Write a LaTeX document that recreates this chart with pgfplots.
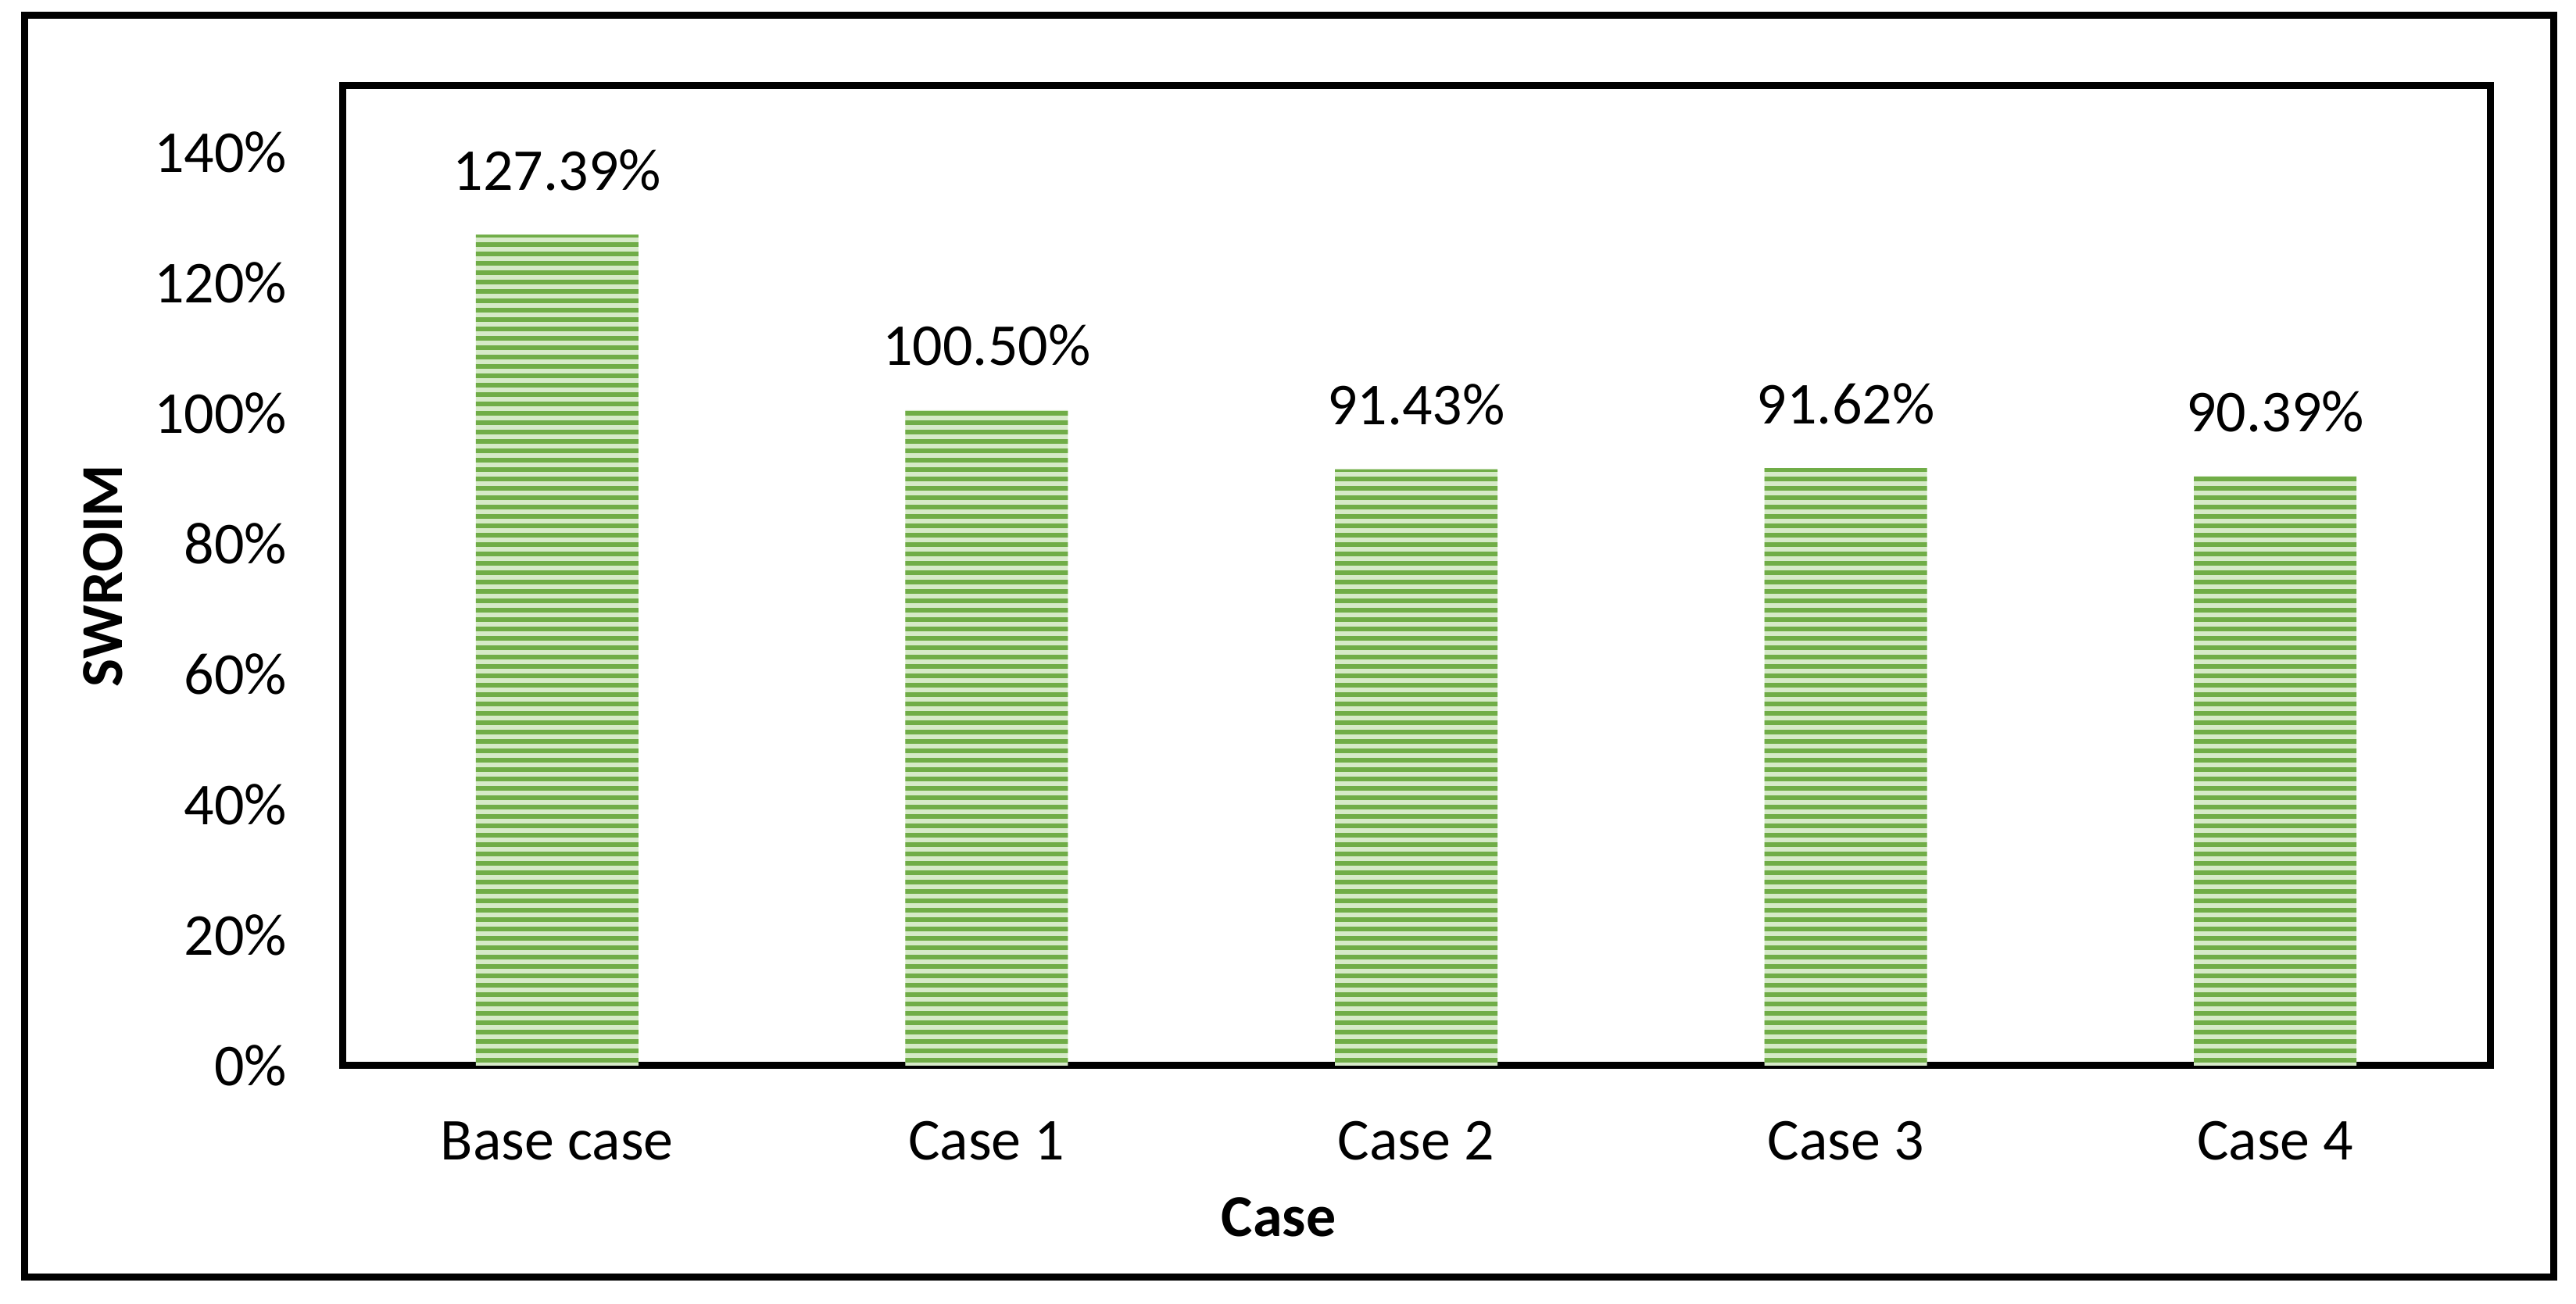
\documentclass[border=0pt]{standalone}
\usepackage{pgfplots}
\pgfplotsset{compat=1.18}
\usepackage{fontspec}
\setmainfont{Carlito}
\usetikzlibrary{patterns.meta}
\definecolor{darkg}{HTML}{70AD47}
\definecolor{lightg}{HTML}{D6EAC8}
\begin{document}
\begin{tikzpicture}[font=\fontsize{19}{23}\selectfont]
\path[use as bounding box] (0,0) rectangle (824pt,417.25pt);
\draw[line width=2.25pt] (7.75pt,8.5pt) rectangle (816.75pt,412.25pt);
\begin{axis}[
  at={(109.5pt,76.25pt)}, anchor=south west,
  scale only axis, width=687pt, height=313.5pt,
  xmin=-0.5, xmax=4.5, ymin=0, ymax=150.2,
  xtick={0,...,4}, xticklabels={Base case,Case 1,Case 2,Case 3,Case 4},
  ytick={0,20,...,140},
  yticklabel={\pgfmathprintnumber{\tick}\%},
  /pgf/number format/assume math mode=true,
  major tick length=0pt,
  axis line style={line width=2.25pt},
  xticklabel style={anchor=base, inner sep=0pt, yshift=-30.25pt},
  yticklabel style={anchor=east, inner sep=0pt, xshift=-17.5pt},
  ylabel={\bfseries SWROIM}, xlabel={\bfseries Case},
  every axis y label/.style={at={(axis description cs:-0.11135,0.5)}, rotate=90, anchor=center, inner sep=0pt},
  every axis x label/.style={at={(axis description cs:0.436,0)}, anchor=base, yshift=-54.5pt, inner sep=0pt},
  ybar, bar width=52pt,
  nodes near coords={\pgfmathprintnumber[fixed,fixed zerofill,precision=2]{\pgfplotspointmeta}\%},
  every node near coord/.append style={anchor=base, inner sep=0pt, yshift=14.25pt, text=black},
]
\addplot[draw=none, fill=lightg, postaction={pattern={Lines[angle=0,distance=3pt,line width=1.5pt]}, pattern color=darkg}] coordinates {(0,127.39) (1,100.50) (2,91.43) (3,91.62) (4,90.39)};
\end{axis}
\end{tikzpicture}
\end{document}
